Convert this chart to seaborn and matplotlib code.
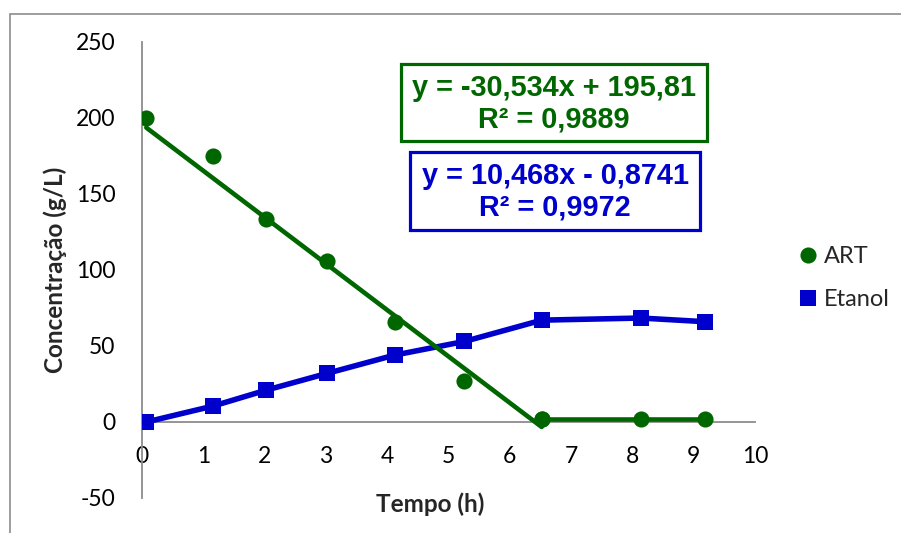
import matplotlib
matplotlib.use("Agg")
import matplotlib.pyplot as plt
import seaborn as sns
import pandas as pd
from matplotlib.lines import Line2D
from matplotlib.patches import Rectangle

# Sampling times (h) and measured concentrations (g/L)
tempo = [0.07, 1.16, 2.03, 3.02, 4.12, 5.26, 6.52, 8.14, 9.18]
art = [200, 175, 133.5, 106, 66, 27, 2, 2, 2]
etanol = [0, 10.5, 21, 32, 44, 53, 67, 68.4, 66]

# Linear trends over the consumption / production phase
art_slope, art_intercept, art_r2 = -30.534, 195.81, 0.9889
eta_slope, eta_intercept, eta_r2 = 10.468, -0.8741, 0.9972
n_fit = 7

x_ticks = list(range(0, 11))
y_ticks = [-50, 0, 50, 100, 150, 200, 250]
series_names = ["ART", "Etanol"]

GREEN = "#006600"
BLUE = "#0000CC"
AXIS_GRAY = "#8C8C8C"

sns.set_style("white")
plt.rcParams["font.family"] = ["Lato", "DejaVu Sans"]
plt.rcParams["axes.unicode_minus"] = False

W, H = 901, 533
fig = plt.figure(figsize=(W / 100, H / 100), dpi=100)
fig.patch.set_facecolor("white")


def fx(px):
    return px / W


def fy(py):
    return 1 - py / H


ax = fig.add_axes([fx(142), fy(498), fx(755) - fx(142), fy(42) - fy(498)])

df = pd.DataFrame({"tempo": tempo, "art": art, "etanol": etanol})

# Etanol: line with square markers
sns.lineplot(data=df, x="tempo", y="etanol", ax=ax, color=BLUE, linewidth=4,
             marker="s", markersize=11, markeredgewidth=0, zorder=3)

# ART: points, fitted trend, and the final plateau joined by a line
sns.scatterplot(data=df.iloc[:n_fit], x="tempo", y="art", ax=ax, color=GREEN,
                s=135, linewidth=0, marker="o", zorder=4)
trend = pd.DataFrame({"tempo": [tempo[0], tempo[n_fit - 1]]})
trend["art"] = art_slope * trend["tempo"] + art_intercept
sns.lineplot(data=trend, x="tempo", y="art", ax=ax, color=GREEN, linewidth=3.3,
             zorder=5)
sns.lineplot(data=df.iloc[n_fit - 1:], x="tempo", y="art", ax=ax, color=GREEN,
             linewidth=3.3, marker="o", markersize=11.6, markeredgewidth=0, zorder=4)

ax.set_xlim(x_ticks[0], x_ticks[-1])
ax.set_ylim(y_ticks[0], y_ticks[-1])
ax.set_xticks(x_ticks)
ax.set_yticks(y_ticks)

for side in ("top", "right"):
    ax.spines[side].set_visible(False)
ax.spines["bottom"].set_position(("data", 0))
for side in ("left", "bottom"):
    ax.spines[side].set_color(AXIS_GRAY)
    ax.spines[side].set_linewidth(1.3)

ax.tick_params(axis="x", length=0, pad=17, labelsize=16.5, labelcolor="black")
ax.tick_params(axis="y", length=0, pad=19, labelsize=16.5, labelcolor="black")

ax.set_xlabel("Tempo (h)", fontsize=17.5, fontweight="bold")
ax.set_ylabel("Concentração (g/L)", fontsize=17.5, fontweight="bold")
ax.xaxis.set_label_coords((430 - 142) / 613, (498 - 492) / 456)
ax.yaxis.set_label_coords((67 - 142) / 613, 0.5)


def fmt(v):
    return f"{abs(v):g}".replace(".", ",")


def eq_text(slope, intercept, r2):
    sign = "+" if intercept >= 0 else "-"
    s = "-" if slope < 0 else ""
    return (f"y = {s}{fmt(slope)}x {sign} {fmt(intercept)}",
            f"R² = {fmt(r2)}")


def eq_box(lines, color, left, top, right, bottom, y1, y2):
    fig.patches.append(Rectangle((fx(left), fy(bottom)), fx(right) - fx(left),
                                 fy(top) - fy(bottom), transform=fig.transFigure,
                                 fill=True, facecolor="white", edgecolor=color,
                                 linewidth=2.3, zorder=10))
    cx = fx((left + right) / 2)
    for line, py in zip(lines, (y1, y2)):
        fig.text(cx, fy(py), line, ha="center", va="center", color=color,
                 fontsize=20.8, fontweight="bold",
                 family=["Liberation Sans", "DejaVu Sans"], zorder=11)


eq_box(eq_text(art_slope, art_intercept, art_r2), GREEN, 401, 64, 707, 141, 88, 120)
eq_box(eq_text(eta_slope, eta_intercept, eta_r2), BLUE, 410, 152, 700, 230, 176, 208)

handles = [Line2D([], [], marker="o", color=GREEN, linestyle="none",
                  markersize=11.6, markeredgewidth=0),
           Line2D([], [], marker="s", color=BLUE, linestyle="none",
                  markersize=11, markeredgewidth=0)]
fig.legend(handles, series_names, loc="center left",
           bbox_to_anchor=(fx(797), fy(278)), frameon=False,
           prop={"size": 17}, handlelength=0.95, handletextpad=0.2,
           labelspacing=0.95, borderpad=0, borderaxespad=0)

# Chart frame
fig.patches.append(Rectangle((fx(10), -0.1), 2, fy(14) + 0.1,
                             transform=fig.transFigure, fill=False,
                             edgecolor="#8C8C8C", linewidth=1.2, zorder=0))

fig.savefig("out.png", dpi=100, facecolor="white")
